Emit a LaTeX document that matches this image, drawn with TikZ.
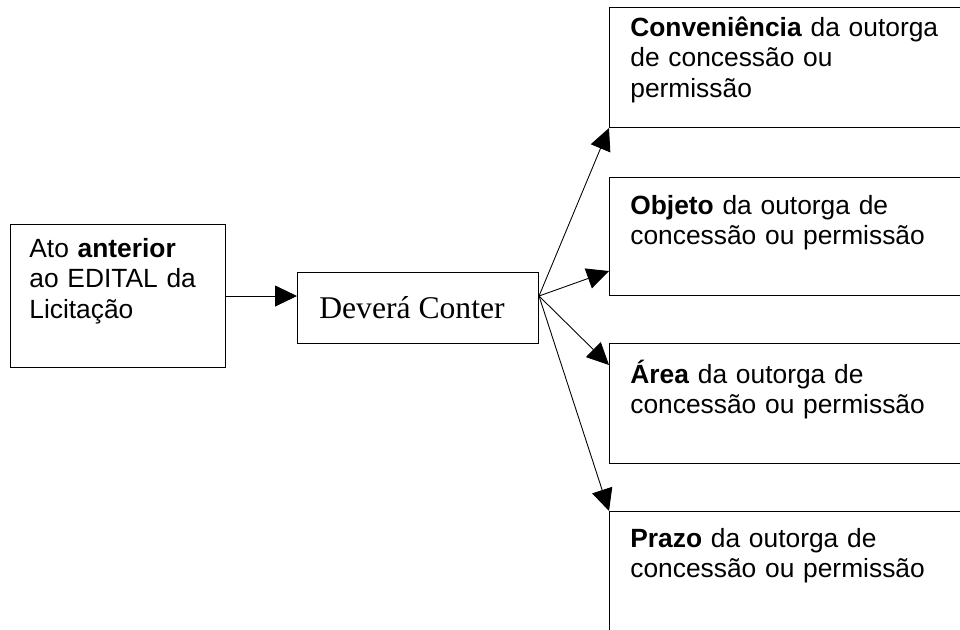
\documentclass[tikz,border=0pt]{standalone}
\usepackage{fontspec}
\setmainfont{Liberation Sans}
\newfontfamily\serifbox{Liberation Serif}
\usetikzlibrary{arrows.meta,positioning,calc}

\tikzset{
  caixa/.style={draw, line width=0.6pt, rectangle, inner sep=0pt, anchor=north west},
  texto/.style={inner sep=0pt, align=left, text width=7cm, anchor=base west,
    font=\fontsize{15}{17.4}\selectfont},
  seta/.style={-{Triangle[length=0.44cm,width=0.42cm]}, line width=0.5pt}
}

\begin{document}
\begin{tikzpicture}[x=0.02cm,y=-0.02cm]
    \useasboundingbox (0,0) rectangle (960,629);
    \clip (0,0) rectangle (960,629);
    % lado esquerdo
    \node[caixa,minimum width=4.3cm,minimum height=2.86cm] (ato) at (10,224) {};
    \node[texto] (atotxt) at (29,257) {Ato \textbf{anterior}\\ao EDITAL da\\Licitação};
    \node[caixa,minimum width=4.82cm,minimum height=1.42cm,
          font=\serifbox\fontsize{18}{20}\selectfont] (dever) at (297,272) {\hspace*{-0.24cm}Deverá Conter};
    % caixas da direita
    \node[caixa,minimum width=8.4cm,minimum height=2.4cm] (conv) at (609,7) {};
    \node[texto] (convtxt) at (630,36) {\textbf{Conveniência} da outorga\\de concessão ou\\permissão};
    \node[caixa,minimum width=8.4cm,minimum height=2.36cm] (obj) at (609,177) {};
    \node[texto] (objtxt) at (630,214) {\textbf{Objeto} da outorga de\\concessão ou permissão};
    \node[caixa,minimum width=8.4cm,minimum height=2.4cm] (area) at (609,343) {};
    \node[texto] (areatxt) at (630,383) {\textbf{Área} da outorga de\\concessão ou permissão};
    \node[caixa,minimum width=8.4cm,minimum height=4cm] (prazo) at (609,511) {};
    \node[texto] (prazotxt) at (630,547) {\textbf{Prazo} da outorga de\\concessão ou permissão};
    % setas
    \coordinate (saida) at (ato.east -| dever.east);
    \draw[seta] (ato.east) -- (ato.east -| dever.west);
    \draw[seta] (saida) -- (conv.south west);
    \draw[seta] (saida) -- ($(obj.south west)+(0,-25)$);
    \draw[seta] (saida) -- ($(area.north west)+(0,22)$);
    \draw[seta] (saida) -- (prazo.north west);
\end{tikzpicture}
\end{document}
